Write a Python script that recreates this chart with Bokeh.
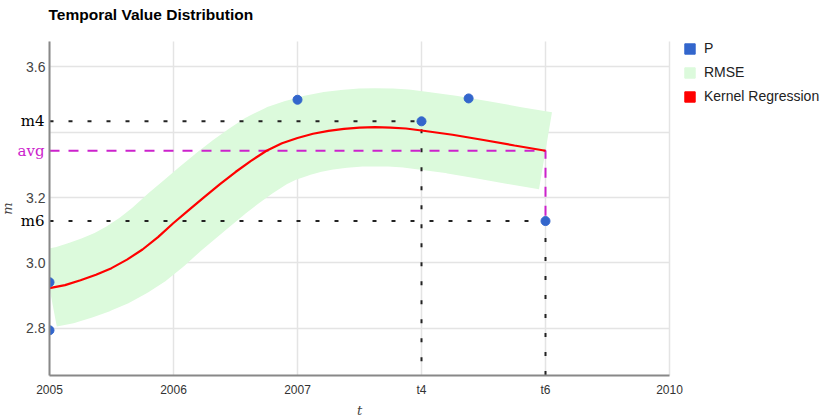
import numpy as np
from bokeh.plotting import figure
from bokeh.models import FixedTicker, Legend, LegendItem, Range1d, LinearAxis
from bokeh.embed import file_html
from bokeh.resources import INLINE

TITLE = "Temporal Value Distribution"

# Observed points P
P_T = [2005.0, 2005.0, 2007.0, 2008.0, 2008.38, 2009.0]
P_V = [2.941, 2.794, 3.499, 3.433, 3.503, 3.128]

# Kernel regression curve (RMSE band drawn around it)
KR_T = [2005.0, 2005.125, 2005.25, 2005.375, 2005.5, 2005.625, 2005.75, 2005.875,
        2006.0, 2006.125, 2006.25, 2006.375, 2006.5, 2006.625, 2006.75, 2006.875,
        2007.0, 2007.125, 2007.25, 2007.375, 2007.5, 2007.625, 2007.75, 2007.875,
        2008.0, 2008.25, 2008.5, 2008.75, 2009.0]
KR_V = [2.923, 2.932, 2.947, 2.964, 2.984, 3.010, 3.041, 3.079,
        3.122, 3.162, 3.202, 3.241, 3.278, 3.312, 3.343, 3.366,
        3.382, 3.395, 3.404, 3.410, 3.414, 3.415, 3.414, 3.411,
        3.405, 3.392, 3.376, 3.359, 3.343]

# Reference markers
T4 = 2008
T6 = 2009
M4 = 3.433
M6 = 3.128
AVG = 3.343

X_TICKS = [2005, 2006, 2007, 2008, 2009, 2010]
X_TICK_LABELS = ["2005", "2006", "2007", "t4", "t6", "2010"]
Y_TICKS = [2.8, 3.0, 3.2, 3.6]
Y_TICK_LABELS = ["2.8", "3.0", "3.2", "3.6"]
Y_GRID = [2.8, 3.0, 3.2, 3.4, 3.6]

# plotted data window
X_MIN, X_MAX = 2005.0, 2010.0
Y_MIN, Y_MAX = 2.656, 3.677

SERIES = ["P", "RMSE", "Kernel Regression"]
COLORS = ["#3366cc", "#dcfadc", "#ff0000"]
MAGENTA = "#cc22cc"
DASH_BLACK = "#222222"

# layout (pixels): the drawing frame spans the canvas so that side texts fit
W, H = 825, 419
PX_X = 124.0          # pixels per year
PX_Y = 326.25         # pixels per unit of m
LEFT_PAD, RIGHT_PAD = 49, 156
TITLE_BAND, PLOT_TOP, BOTTOM_PAD = 26, 42, 44
XF0 = X_MIN - LEFT_PAD / PX_X
XF1 = X_MAX + RIGHT_PAD / PX_X
YF0 = Y_MIN - BOTTOM_PAD / PX_Y
YF1 = Y_MAX + (PLOT_TOP - TITLE_BAND) / PX_Y

p = figure(width=W, height=H, output_backend="svg", toolbar_location=None,
           x_range=Range1d(XF0, XF1), y_range=Range1d(YF0, YF1),
           min_border_left=0, min_border_right=0, min_border_top=0, min_border_bottom=0)
p.outline_line_color = None
p.background_fill_color = "white"

# title
p.title.text = TITLE
p.title.text_font = "Liberation Sans"
p.title.text_font_size = "15.5px"
p.title.text_font_style = "bold"
p.title.text_color = "#000000"
p.title.standoff = 6
p.title.offset = LEFT_PAD - 1

# grids
p.xgrid.ticker = FixedTicker(ticks=X_TICKS)
p.ygrid.ticker = FixedTicker(ticks=Y_GRID)
for g in (p.xgrid[0], p.ygrid[0]):
    g.grid_line_color = "#e4e4e4"
    g.grid_line_width = 1.5
try:
    p.xgrid[0].cross_bounds = (Y_MIN, Y_MAX)
    p.ygrid[0].cross_bounds = (X_MIN, X_MAX)
except Exception:
    p.xgrid[0].visible = False
    p.ygrid[0].visible = False
    p.segment(x0=X_TICKS, x1=X_TICKS, y0=[Y_MIN] * len(X_TICKS), y1=[Y_MAX] * len(X_TICKS),
              line_color="#e4e4e4", line_width=1.5, level="underlay")
    p.segment(x0=[X_MIN] * len(Y_GRID), x1=[X_MAX] * len(Y_GRID), y0=Y_GRID, y1=Y_GRID,
              line_color="#e4e4e4", line_width=1.5, level="underlay")

# axes (pinned to the edges of the data window)
xa = p.xaxis[0]
ya = p.yaxis[0]
xa.bounds = (X_MIN, X_MAX)
ya.bounds = (Y_MIN, Y_MAX)
xa.fixed_location = Y_MIN
ya.fixed_location = X_MIN
xa.ticker = FixedTicker(ticks=X_TICKS)
xa.major_label_overrides = {t: l for t, l in zip(X_TICKS, X_TICK_LABELS)}
ya.ticker = FixedTicker(ticks=Y_TICKS)
ya.major_label_overrides = {t: l for t, l in zip(Y_TICKS, Y_TICK_LABELS)}
for a in (xa, ya):
    a.axis_line_color = "#888888"
    a.axis_line_width = 2
    a.major_tick_line_color = None
    a.minor_tick_line_color = None
    a.major_tick_out = 0
    a.minor_tick_out = 0
    a.major_label_text_font = "Liberation Sans"
    a.major_label_text_color = "#444444"
    a.axis_label_text_font = "DejaVu Serif"
    a.axis_label_text_font_style = "italic"
    a.axis_label_text_font_size = "13px"
    a.axis_label_text_color = "#444444"
xa.major_label_text_font_size = "12px"
xa.major_label_text_color = "#333333"
ya.major_label_text_font_size = "14px"
xa.major_label_standoff = 8
ya.major_label_standoff = 4
xa.axis_label = "t"
ya.axis_label = "m"
xa.axis_label_standoff = 2
ya.axis_label_standoff = 8

# label-only axes pinned at the left edge for the marker values
for ticks, labels, col in (([M4, M6], ["m4", "m6"], "#000000"), ([AVG], ["avg"], MAGENTA)):
    ax = LinearAxis(ticker=FixedTicker(ticks=ticks),
                    major_label_overrides={t: l for t, l in zip(ticks, labels)},
                    fixed_location=X_MIN, bounds=(Y_MIN, Y_MAX),
                    axis_line_color=None, major_tick_line_color=None,
                    minor_tick_line_color=None, major_tick_out=0, minor_tick_out=0,
                    major_label_standoff=5, major_label_text_font="DejaVu Serif",
                    major_label_text_font_size="15px", major_label_text_color=col)
    p.add_layout(ax, "left")

# RMSE band: thick line around the regression curve
p.line(KR_T, KR_V, line_color=COLORS[1], line_width=78, line_cap="butt", line_join="round")

# reference dashed lines
p.line([X_MIN, T4, T4], [M4, M4, Y_MIN], line_color=DASH_BLACK, line_width=2, line_dash="4 15")
p.line([X_MIN, T6, T6], [M6, M6, Y_MIN], line_color=DASH_BLACK, line_width=2, line_dash="4 15")
p.line([X_MIN, T6, T6], [AVG, AVG, M6], line_color=MAGENTA, line_width=2, line_dash="10 9")

# regression curve
p.line(KR_T, KR_V, line_color=COLORS[2], line_width=2.2)

# points
p.scatter(P_T, P_V, size=9, fill_color=COLORS[0], line_color=COLORS[0])

# keep the plotted marks inside the data window on the left edge
p.quad(left=[XF0], right=[X_MIN], bottom=[Y_MIN], top=[Y_MAX],
       fill_color="white", line_color=None)

# legend with square swatches
items = []
for name, col in zip(SERIES, COLORS):
    r = p.quad(left=np.array([np.nan]), right=np.array([np.nan]),
               top=np.array([np.nan]), bottom=np.array([np.nan]),
               fill_color=col, line_color=col)
    items.append(LegendItem(label=name, renderers=[r]))
legend = Legend(items=items, location=(683, 271 + BOTTOM_PAD), orientation="vertical",
                glyph_width=13, glyph_height=13, label_height=14, spacing=8,
                padding=0, margin=0, label_standoff=8,
                label_text_font="Liberation Sans", label_text_font_size="14px",
                label_text_color="#222222", background_fill_alpha=0,
                border_line_alpha=0)
p.add_layout(legend, "center")

open("out.html", "w").write(file_html(p, INLINE))
